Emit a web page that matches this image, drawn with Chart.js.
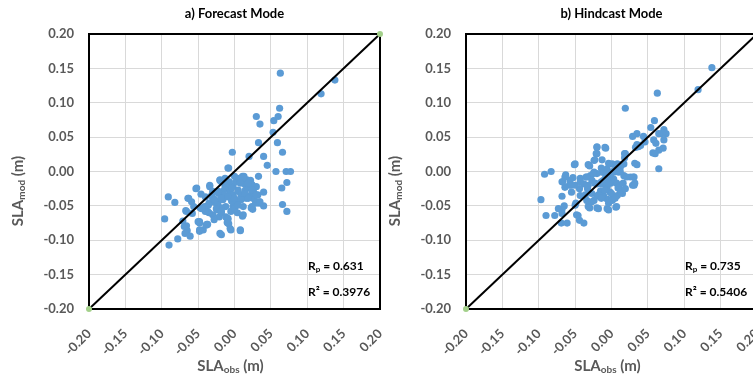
<!DOCTYPE html>
<html>
<head>
<meta charset="utf-8">
<script src="https://cdn.jsdelivr.net/npm/chart.js@4.4.0/dist/chart.umd.min.js"></script>
<style>
  html, body { margin: 0; padding: 0; background: #fff; overflow: hidden; }
  body { width: 753px; height: 379px; position: relative; }
  .panel { position: absolute; top: 0; width: 390px; height: 379px; }
</style>
</head>
<body>
<div class="panel" style="left:0"><canvas id="forecast" width="390" height="379"></canvas></div>
<div class="panel" style="left:377px"><canvas id="hindcast" width="390" height="379"></canvas></div>
<script>
// a) forecast mode: observed vs modelled SLA (m)
const forecastObs = [
  0.063, 0.138, 0.119, 0.062, 0.030, 0.035, 0.054, 0.060, 0.053, 0.033,
  0.059, 0.066, -0.003, 0.020, 0.040, 0.045, -0.008, 0.057, 0.071, 0.077,
  0.033, 0.072, 0.065, 0.066, 0.072, -0.018, -0.091, -0.082, -0.096, -0.090,
  -0.078, -0.066, -0.065, -0.068, -0.061, -0.067, -0.048, -0.048, -0.043, -0.037,
  -0.018, -0.009, -0.008, -0.005, 0.008, 0.011, 0.025, 0.034,
  -0.053, -0.046, -0.034, -0.020, -0.030, -0.040, -0.059, -0.063, -0.056, -0.058,
  -0.047, -0.041, -0.035, -0.037, -0.030, -0.024, -0.023, -0.016, -0.012, -0.008,
  -0.006, -0.014, -0.009, -0.002, 0.002, 0.007, 0.011, 0.017, 0.022, 0.014,
  0.005, 0.009, 0.016, 0.021, 0.026, 0.032, 0.034, 0.029, 0.023, 0.012,
  0.002, -0.005, -0.002, -0.012, -0.010, -0.021, -0.028, -0.039, -0.048, -0.035,
  -0.071, -0.069, -0.030, -0.022, -0.002, -0.018, 0.018, -0.007,
  -0.027, -0.015, -0.004, 0.004, -0.018, 0.027, 0.015, 0.030, 0.040, 0.040,
  0.013, 0.022, 0.024,
  -0.013, 0.000, 0.012, 0.008, 0.019, 0.024, 0.014, 0.005, -0.004, -0.013,
  -0.022, -0.031, -0.027, -0.018, -0.009, 0.000, 0.009, 0.019, 0.030, 0.035,
  0.024, 0.012, -0.009, -0.009, -0.006, 0.008, -0.020, -0.040, -0.036, -0.045,
  -0.050, -0.038, -0.048, -0.064, -0.066, -0.052, -0.034, -0.020, -0.009, -0.016,
  -0.025, -0.018, 0.000, 0.005
];
const forecastMod = [
  0.143, 0.133, 0.113, 0.092, 0.080, 0.069, 0.074, 0.080, 0.057, 0.042,
  0.042, 0.028, 0.028, 0.022, 0.022, 0.009, 0.005, 0.000, 0.000, 0.000,
  -0.007, -0.016, -0.024, -0.048, -0.058, -0.015, -0.037, -0.045, -0.069, -0.107,
  -0.098, -0.079, -0.086, -0.090, -0.094, -0.057, -0.075, -0.087, -0.085, -0.077,
  -0.092, -0.070, -0.076, -0.085, -0.086, -0.065, -0.055, -0.046,
  -0.025, -0.033, -0.022, -0.013, -0.029, -0.037, -0.044, -0.039, -0.051, -0.061,
  -0.053, -0.051, -0.046, -0.058, -0.063, -0.056, -0.046, -0.041, -0.051, -0.036,
  -0.029, -0.027, -0.022, -0.021, -0.015, -0.010, -0.007, -0.012, -0.018, -0.018,
  -0.027, -0.034, -0.039, -0.035, -0.029, -0.034, -0.044, -0.046, -0.053, -0.051,
  -0.044, -0.058, -0.051, -0.066, -0.074, -0.066, -0.070, -0.078, -0.073, -0.060,
  -0.072, -0.080, -0.039, -0.032, -0.034, -0.053, -0.024, -0.015,
  -0.045, -0.034, -0.043, -0.060, -0.060, -0.040, -0.027, -0.022, -0.030, -0.050,
  -0.007, -0.013, -0.019,
  -0.010, -0.007, -0.010, -0.017, -0.017, -0.027, -0.032, -0.029, -0.024, -0.022,
  -0.029, -0.034, -0.041, -0.039, -0.037, -0.039, -0.041, -0.039, -0.034, -0.044,
  -0.051, -0.063, -0.068, -0.075, -0.083, -0.085, -0.090, -0.058, -0.049, -0.054,
  -0.073, -0.077, -0.085, -0.039, -0.058, -0.024, -0.020, -0.012, 0.005, -0.014,
  -0.054, -0.058, -0.054, -0.049
];

// b) hindcast mode
const hindcastObs = [
  0.138, 0.119, 0.063, 0.019, 0.059, 0.054, 0.072, 0.075, 0.069, 0.065,
  0.044, 0.035, 0.029, 0.058, 0.061, 0.071, 0.065, 0.057, 0.040, 0.033,
  0.035, 0.072, 0.065, 0.035, 0.018, 0.018, -0.020, -0.008, -0.021, -0.024,
  -0.013, -0.030, -0.051, -0.092, -0.083, -0.063, -0.053, -0.067, -0.058, -0.055,
  -0.068, -0.097, -0.049, -0.065, -0.068, -0.068, -0.090, -0.078, -0.069, -0.061,
  -0.046, -0.044, -0.038, -0.030, -0.020, -0.006, 0.006, -0.043, -0.038, -0.033,
  -0.027, -0.043, -0.044, -0.034, -0.031, -0.024, -0.020, -0.015, -0.011, -0.006,
  0.001, 0.001, 0.008, 0.015, 0.012, 0.019, 0.029, 0.031, 0.026, 0.031,
  0.017, 0.010, 0.006, 0.008, 0.012, 0.017, 0.001, -0.006, -0.013, -0.020,
  -0.024, -0.029, -0.035, -0.027, -0.020, -0.013, -0.006, -0.001, 0.003, -0.004,
  -0.008, -0.011, 0.003, -0.001, 0.007, 0.010, -0.002, -0.013, -0.050, -0.057,
  -0.064,
  -0.020, -0.009, -0.020, -0.050, -0.032, -0.023, -0.004, 0.007, 0.002, -0.007,
  -0.014, -0.025, -0.034, -0.043, -0.055, -0.064, -0.068, -0.032, -0.023, -0.014,
  -0.004, -0.009, 0.000, 0.009, 0.016, 0.021, 0.030, 0.032, 0.012, 0.014,
  -0.018, -0.014, -0.027, -0.036, 0.005, -0.004, -0.018, -0.032, -0.004, 0.007,
  -0.050, -0.073, -0.048, 0.037, 0.046, 0.060, 0.032, 0.019
];
const hindcastMod = [
  0.151, 0.119, 0.114, 0.092, 0.074, 0.064, 0.061, 0.055, 0.055, 0.055,
  0.051, 0.055, 0.051, 0.046, 0.041, 0.034, 0.031, 0.027, 0.038, 0.035,
  0.039, 0.046, 0.004, 0.010, 0.026, 0.020, 0.035, 0.034, 0.026, 0.016,
  0.017, 0.008, 0.010, -0.004, 0.000, -0.005, -0.009, -0.015, -0.020, -0.030,
  -0.036, -0.041, -0.046, -0.050, -0.055, -0.061, -0.064, -0.064, -0.075, -0.075,
  -0.064, -0.071, -0.075, -0.053, -0.053, -0.054, -0.052, -0.010, -0.018, -0.025,
  -0.032, -0.035, -0.025, -0.042, -0.045, -0.042, -0.036, -0.028, -0.035, -0.040,
  -0.040, -0.042, -0.035, -0.032, -0.028, -0.025, -0.020, -0.008, -0.008, -0.020,
  -0.006, -0.001, 0.006, 0.011, 0.006, 0.011, 0.011, 0.004, -0.001, -0.003,
  -0.001, -0.006, -0.008, -0.013, -0.018, -0.018, -0.023, -0.017, -0.011, -0.008,
  -0.008, -0.013, -0.001, -0.003, -0.017, -0.023, -0.030, -0.037, -0.020, -0.013,
  -0.023,
  0.036, 0.035, 0.026, 0.011, 0.010, 0.017, 0.012, 0.010, 0.000, -0.005,
  0.005, -0.003, -0.008, -0.015, -0.020, -0.008, -0.015, -0.020, -0.017, -0.015,
  -0.017, -0.027, -0.032, -0.024, -0.017, -0.008, -0.008, -0.017, 0.000, 0.010,
  -0.034, -0.039, -0.044, -0.034, -0.039, -0.046, -0.054, -0.051, -0.056, -0.051,
  -0.049, -0.054, -0.063, 0.036, 0.043, 0.026, 0.012, 0.026
];

const axisMin = -0.2;
const axisMax = 0.2;
const tickStep = 0.05;
const oneToOne = [axisMin, axisMax];

function fmt(v) {
    if (Math.abs(v) < 1e-9) return '0.00';
    return v.toFixed(2);
}

function toPoints(xs, ys) {
    return xs.map((x, i) => ({ x: x, y: ys[i] }));
}

function drawRich(ctx, parts, x, y) {
    let total = 0;
    parts.forEach(p => {
        ctx.font = 'bold ' + p[1] + 'px Lato';
        total += ctx.measureText(p[0]).width;
    });
    let cx = x - total / 2;
    parts.forEach(p => {
        ctx.font = 'bold ' + p[1] + 'px Lato';
        ctx.fillText(p[0], cx, y + p[2]);
        cx += ctx.measureText(p[0]).width;
    });
}

function drawLeft(ctx, parts, x, y) {
    parts.forEach(p => {
        ctx.font = 'bold ' + p[1] + 'px Lato';
        ctx.fillText(p[0], x, y + p[2]);
        x += ctx.measureText(p[0]).width;
    });
}

const panelText = {
    id: 'panelText',
    beforeDatasetsDraw(chart) {
        const { ctx, chartArea: a } = chart;
        ctx.save();
        ctx.strokeStyle = '#000';
        ctx.lineWidth = 2;
        ctx.strokeRect(a.left, a.top, a.right - a.left, a.bottom - a.top);
        ctx.restore();
    },
    afterDraw(chart, args, opts) {
        const { ctx, chartArea: a } = chart;
        const mid = (a.left + a.right) / 2;
        ctx.save();
        ctx.textAlign = 'left';
        ctx.textBaseline = 'middle';

        ctx.fillStyle = '#000';
        drawRich(ctx, [[opts.title, 13, 0]], mid, 14);

        ctx.fillStyle = '#595959';
        drawRich(ctx, [['SLA', 15, 0], ['obs', 10, 4], [' (m)', 15, 0]], mid - 4, 366);

        ctx.save();
        ctx.translate(a.left - 71, 191);
        ctx.rotate(-Math.PI / 2);
        drawRich(ctx, [['SLA', 15, 0], ['mod', 10, 4], [' (m)', 15, 0]], 0, 0);
        ctx.restore();

        ctx.fillStyle = '#000';
        drawLeft(ctx, [['R', 12, 0], ['p', 8, 3], [' = ' + opts.rp, 12, 0]], a.left + 219, a.top + 232);
        drawLeft(ctx, [['R\u00b2 = ' + opts.r2, 12, 0]], a.left + 219, a.top + 258);
        ctx.restore();
    }
};

function makeChart(id, xs, ys, title, rp, r2) {
    const ctx = document.getElementById(id).getContext('2d');
    return new Chart(ctx, {
        type: 'scatter',
        data: {
            datasets: [{
                label: '1:1',
                data: toPoints(oneToOne, oneToOne),
                showLine: true,
                borderColor: '#000',
                borderWidth: 2,
                pointRadius: 3,
                pointBackgroundColor: '#a3d08a',
                pointBorderWidth: 0,
                clip: false
            }, {
                label: 'SLA',
                data: toPoints(xs, ys),
                pointRadius: 3.6,
                pointBackgroundColor: '#5b9bd5',
                pointBorderWidth: 0
            }]
        },
        options: {
            responsive: false,
            animation: false,
            events: [],
            layout: { padding: { top: 34, right: 10, left: 0, bottom: 0 } },
            plugins: {
                legend: { display: false },
                tooltip: { enabled: false },
                panelText: { title: title, rp: rp, r2: r2 }
            },
            scales: {
                x: {
                    type: 'linear',
                    min: axisMin,
                    max: axisMax,
                    grid: { color: '#d9d9d9', drawTicks: false },
                    border: { display: false },
                    ticks: {
                        stepSize: tickStep,
                        autoSkip: false,
                        minRotation: 45,
                        maxRotation: 45,
                        padding: 17,
                        color: '#595959',
                        font: { family: 'Lato', size: 13, weight: 'bold' },
                        callback: fmt
                    },
                    afterFit: s => {
                        s.height = 70;
                        s.paddingLeft = 0;
                        s.paddingRight = 0;
                    }
                },
                y: {
                    type: 'linear',
                    min: axisMin,
                    max: axisMax,
                    grid: { color: '#d9d9d9', drawTicks: false },
                    border: { display: false },
                    ticks: {
                        stepSize: tickStep,
                        padding: 15,
                        color: '#595959',
                        font: { family: 'Lato', size: 13, weight: 'bold' },
                        callback: fmt
                    },
                    afterFit: s => {
                        s.width = 89;
                        s.paddingTop = 0;
                        s.paddingBottom = 0;
                    }
                }
            }
        },
        plugins: [panelText]
    });
}

makeChart('forecast', forecastObs, forecastMod, 'a) Forecast Mode', '0.631', '0.3976');
makeChart('hindcast', hindcastObs, hindcastMod, 'b) Hindcast Mode', '0.735', '0.5406');
</script>
</body>
</html>
